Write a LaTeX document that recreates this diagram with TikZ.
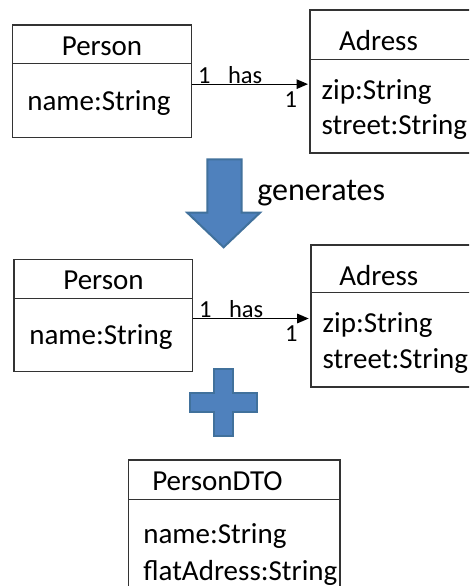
\documentclass[tikz,border=0pt]{standalone}
\usepackage{fontspec}
\setmainfont{Carlito}
\usetikzlibrary{arrows.meta}
\definecolor{boxline}{HTML}{333333}
\definecolor{bluefill}{HTML}{4F81BD}
\definecolor{blueedge}{HTML}{41719C}
\tikzset{
  classbox/.style={draw=boxline, line width=1.3pt, inner sep=0pt, outer sep=0pt, anchor=north west, rectangle},
  thickbox/.style={classbox, line width=1.8pt},
  divider/.style={draw=boxline, line width=1.3pt},
  txt/.style={font=\fontsize{29}{35}\selectfont, inner sep=0pt, outer sep=0pt, anchor=base west},
  ttl/.style={txt, anchor=base},
  mult/.style={font=\fontsize{24.5}{29}\selectfont, inner sep=0pt, outer sep=0pt, anchor=base west},
  gen/.style={font=\fontsize{32}{38}\selectfont, inner sep=0pt, outer sep=0pt, anchor=base west},
  assoc/.style={draw=black, line width=1.3pt, shorten >=2pt, -{Triangle[length=11.5pt,width=9.5pt]}},
  bigshape/.style={fill=bluefill, draw=blueedge, line width=2pt, line join=miter},
}
\begin{document}
\begin{tikzpicture}[x=1pt,y=-1pt]
\clip (0,0) rectangle (469,586);
\fill[white] (0,0) rectangle (469,586);

% ---------- top diagram ----------
\node[classbox, minimum width=179.4pt, minimum height=112.3pt] (p1) at (12.3,25) {};
\draw[divider] (p1.west |- 0,63.3) -- (p1.east |- 0,63.3);
\node[ttl] (p1t) at (102,56) {Person};
\node[txt] (p1a) at (27.3,110) {name:String};

\node[thickbox, minimum width=220pt, minimum height=143pt] (a1) at (310,10) {};
\draw[divider] (a1.west |- 0,59.3) -- (a1.east |- 0,59.3);
\node[txt] (a1t) at (339,51) {Adress};
\node[txt] (a1a) at (321.7,99.3) {zip:String};
\node[txt] (a1b) at (321.7,134.3) {street:String};

\draw[assoc] ([yshift=-3pt]p1.east) -- ([yshift=-3pt]p1.east -| a1.west);
\node[mult] (m1a) at (198,83) {1};
\node[mult] (h1) at (228,83) {has};
\node[mult] (m1b) at (284.5,107.5) {1};

% ---------- generates arrow ----------
\draw[bigshape] (207.3,159.3) -- (241.7,159.3) -- (241.7,212.7) -- (260,212.7)
  -- (223.6,247.3) -- (187.3,212.7) -- (207.3,212.7) -- cycle;
\node[gen] (g) at (257.3,200) {generates};

% ---------- second diagram ----------
\node[classbox, minimum width=178.7pt, minimum height=112.4pt] (p2) at (14,259.3) {};
\draw[divider] (p2.west |- 0,298.3) -- (p2.east |- 0,298.3);
\node[ttl] (p2t) at (103.5,289.5) {Person};
\node[txt] (p2a) at (29.3,344) {name:String};

\node[thickbox, minimum width=220pt, minimum height=142.6pt] (a2) at (310.7,244.7) {};
\draw[divider] (a2.west |- 0,292.7) -- (a2.east |- 0,292.7);
\node[txt] (a2t) at (339.3,285) {Adress};
\node[txt] (a2a) at (322.7,332.5) {zip:String};
\node[txt] (a2b) at (322.7,368) {street:String};

\draw[assoc] ([yshift=-3pt]p2.east) -- ([yshift=-3pt]p2.east -| a2.west);
\node[mult] (m2a) at (199,317.3) {1};
\node[mult] (h2) at (229,317.3) {has};
\node[mult] (m2b) at (285,341.7) {1};

% ---------- plus ----------
\draw[bigshape] (214.3,369.3) -- (232.7,369.3) -- (232.7,393.3) -- (256.7,393.3)
  -- (256.7,412.3) -- (232.7,412.3) -- (232.7,436) -- (214.3,436) -- (214.3,412.3)
  -- (190,412.3) -- (190,393.3) -- (214.3,393.3) -- cycle;

% ---------- PersonDTO ----------
\node[classbox, minimum width=211.7pt, minimum height=170pt] (d) at (128.3,460) {};
\draw[divider] (d.west |- 0,499.3) -- (d.east |- 0,499.3);
\node[txt] (dt) at (152.3,490) {PersonDTO};
\node[txt] (da) at (143.3,543.3) {name:String};
\node[txt] (db) at (143.3,580.7) {flatAdress:String};
\end{tikzpicture}
\end{document}
